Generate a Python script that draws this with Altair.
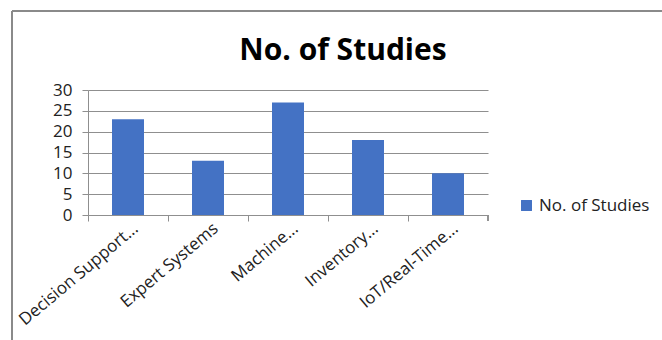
import altair as alt
import pandas as pd

categories = ["Decision Support...", "Expert Systems", "Machine...", "Inventory...", "IoT/Real-Time..."]
values = [23, 13, 27, 18, 10]
series_name = "No. of Studies"
y_ticks = [0, 5, 10, 15, 20, 25, 30]

df = pd.DataFrame({"category": categories, "value": values, "series": [series_name] * len(categories)})
title_df = pd.DataFrame({"t": [series_name]})

FONT = "Open Sans"
GRID = "#8f8f8f"

bars = alt.Chart(df).mark_bar(width=alt.RelativeBandSize(0.4), color="#4472C4").encode(
    x=alt.X("category:N", sort=categories, title=None,
            scale=alt.Scale(paddingInner=0, paddingOuter=0),
            axis=alt.Axis(labelAngle=-40, labelAlign="right", labelBaseline="middle",
                          labelFont=FONT, labelFontSize=17, labelColor="#222222",
                          bandPosition=0, tickSize=6, tickColor=GRID, domainColor=GRID,
                          labelPadding=5, labelOffset=8, grid=False, labelOverlap=False)),
    y=alt.Y("value:Q", title=None,
            scale=alt.Scale(domain=[0, 30], nice=False),
            axis=alt.Axis(values=y_ticks, labelFont=FONT, labelFontSize=17, labelColor="#222222",
                          tickSize=6, tickColor=GRID, domainColor=GRID, gridColor=GRID,
                          labelPadding=10)),
    color=alt.Color("series:N", title=None,
                    scale=alt.Scale(range=["#4472C4"]),
                    legend=alt.Legend(orient="none", legendX=430, legendY=107,
                                      symbolType="square", symbolSize=120, symbolStrokeWidth=0,
                                      labelFont=FONT, labelFontSize=17, labelColor="#222222",
                                      labelLimit=300)),
)

title = alt.Chart(title_df).mark_text(font=FONT, fontSize=30, fontWeight="bold", color="#000000",
                                      align="center", baseline="alphabetic").encode(
    text="t:N", x=alt.value(255), y=alt.value(-30)
)

end_tick = alt.Chart(df).mark_rule(color=GRID).encode(
    x=alt.value(400), y=alt.value(125), y2=alt.value(131)
)
frame_left = alt.Chart(df).mark_rule(color="#8a8a8a", strokeWidth=1.5).encode(
    x=alt.value(-76), y=alt.value(-79), y2=alt.value(260)
)
frame_top = alt.Chart(df).mark_rule(color="#8a8a8a", strokeWidth=1.5).encode(
    x=alt.value(-76), x2=alt.value(580), y=alt.value(-79)
)

chart = alt.layer(bars, end_tick, frame_left, frame_top, title).properties(
    width=400, height=125,
    autosize=alt.AutoSizeParams(type="none"),
    padding={"left": 88, "top": 90, "right": 174, "bottom": 125},
).configure_view(stroke=None).configure_axis(gridWidth=1)

chart.save("out.html", embed_options={"renderer": "svg", "actions": False})
